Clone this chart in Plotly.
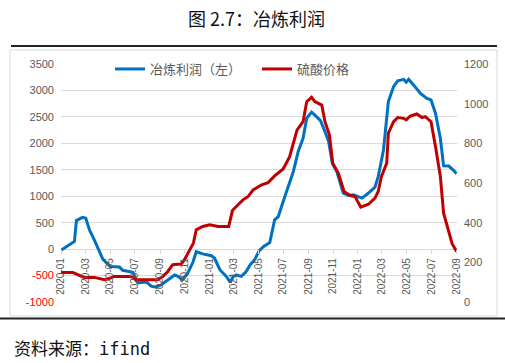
import plotly.graph_objects as go

# ---- data ----
profit_dates = ["2020-01-01","2020-02-03","2020-02-08","2020-02-23","2020-03-02","2020-03-11","2020-03-23",
    "2020-04-13","2020-05-01","2020-05-11","2020-05-24","2020-06-01","2020-06-17","2020-06-26","2020-07-08",
    "2020-07-29","2020-08-10","2020-08-22","2020-09-04","2020-09-20","2020-10-07","2020-10-15","2020-10-26",
    "2020-11-08","2020-11-21","2020-11-29","2020-12-15","2021-01-05","2021-01-13","2021-01-26","2021-02-11",
    "2021-02-21","2021-02-28","2021-03-08","2021-03-20","2021-03-31","2021-04-11","2021-04-22","2021-05-03",
    "2021-05-14","2021-05-29","2021-06-10","2021-06-19","2021-07-01","2021-07-13","2021-07-26","2021-08-07",
    "2021-08-19","2021-08-28","2021-09-09","2021-09-21","2021-10-01","2021-10-12","2021-10-21","2021-10-30",
    "2021-11-10","2021-11-26","2021-12-09","2021-12-21","2022-01-11","2022-01-27","2022-02-12","2022-02-20",
    "2022-03-05","2022-03-17","2022-03-30","2022-04-09","2022-04-24","2022-04-30","2022-05-06","2022-05-18",
    "2022-06-04","2022-06-20","2022-06-30","2022-07-11","2022-07-23","2022-07-31","2022-08-13","2022-08-25",
    "2022-09-01"]
profit_values = [-20,145,540,600,585,365,175,
    -190,-330,-330,-340,-400,-420,-440,-640,
    -620,-700,-720,-675,-580,-490,-515,-580,
    -455,-245,-50,-90,-125,-170,-390,-515,
    -630,-515,-490,-515,-435,-295,-200,-30,
    50,125,555,615,900,1185,1465,1845,
    2095,2475,2590,2505,2430,2220,2035,1625,
    1465,1060,1015,1025,965,1060,1170,1370,
    1875,2790,3075,3180,3210,3155,3210,3105,
    2945,2850,2820,2570,2095,1575,1570,1485,
    1425]

acid_dates = ["2020-01-01","2020-01-30","2020-02-11","2020-02-27","2020-03-23","2020-04-17","2020-04-25",
    "2020-05-11","2020-06-17","2020-06-26","2020-07-04","2020-08-26","2020-09-08","2020-09-20","2020-10-02",
    "2020-10-23","2020-10-31","2020-11-13","2020-11-22","2020-11-29","2020-12-15","2021-01-01","2021-01-22",
    "2021-02-17","2021-02-26","2021-03-12","2021-03-24","2021-04-06","2021-04-18","2021-05-09","2021-05-25",
    "2021-06-10","2021-07-01","2021-07-17","2021-08-04","2021-08-19","2021-08-28","2021-09-09","2021-09-17",
    "2021-10-04","2021-10-12","2021-10-23","2021-10-31","2021-11-14","2021-11-28","2021-12-13","2021-12-25",
    "2022-01-08","2022-01-27","2022-02-12","2022-02-20","2022-02-28","2022-03-13","2022-03-17","2022-03-30",
    "2022-04-09","2022-04-24","2022-04-30","2022-05-10","2022-05-26","2022-06-08","2022-06-16","2022-06-30",
    "2022-07-11","2022-07-23","2022-07-31","2022-08-13","2022-08-21","2022-09-01"]
acid_values = [149,149,138,124,124,112,116,
    129,129,124,112,112,129,154,188,
    191,213,263,297,364,381,389,381,
    381,461,490,515,532,565,591,602,
    636,671,733,867,909,1010,1032,1010,
    993,909,842,700,649,557,537,532,
    478,493,524,557,633,700,851,909,
    930,926,918,938,948,930,935,909,
    784,633,448,356,294,255]

left_ticks = [-1000, -500, 0, 500, 1000, 1500, 2000, 2500, 3000, 3500]
right_ticks = [0, 200, 400, 600, 800, 1000, 1200]
title_text = "图 2.7：冶炼利润"
source_cjk = "资料来源："
source_latin = "ifind"
name_profit = "冶炼利润（左）"
name_acid = "硫酸价格"

# ---- layout geometry ----
W, H = 505, 363
L, R, T, B = 61, 457, 64, 302
def px(x):
    return (x - L) / (R - L)
def py(y):
    return (B - y) / (B - T)

left_text = [f"<span style='color:#FF0000'>{v}</span>" if v < 0 else str(v) for v in left_ticks]

fig = go.Figure()
fig.add_trace(go.Scatter(x=profit_dates, y=profit_values, name=name_profit, mode="lines",
                         line=dict(color="#0070C0", width=3), yaxis="y"))
fig.add_trace(go.Scatter(x=acid_dates, y=acid_values, name=name_acid, mode="lines",
                         line=dict(color="#C00000", width=3), yaxis="y2"))

ymin, ymax = left_ticks[0], left_ticks[-1]
fig.update_layout(
    width=W, height=H,
    margin=dict(l=L, r=W - R, t=T, b=H - B, pad=0),
    paper_bgcolor="white", plot_bgcolor="white",
    font=dict(family="Liberation Sans, Arial, sans-serif", color="#595959"),
    showlegend=True,
    legend=dict(orientation="h", x=px(110), y=py(69), xanchor="left", yanchor="middle",
                bgcolor="rgba(0,0,0,0)", font=dict(family="Noto Sans CJK SC", size=13, color="#595959"),
                entrywidth=102, tracegroupgap=0),
    xaxis=dict(type="date", range=["2020-01-01", "2022-09-02"], dtick="M2", tick0="2020-01-01",
               tickformat="%Y-%m", tickangle=-90, showgrid=False, zeroline=False,
               anchor="free", position=(0 - ymin) / (ymax - ymin),
               ticks="outside", ticklen=4, tickcolor="#d9d9d9",
               showline=False, tickfont=dict(size=10, color="#595959")),
    yaxis=dict(range=[ymin, ymax], tickvals=left_ticks, ticktext=left_text,
               showgrid=True, gridcolor="#d9d9d9", gridwidth=1, zeroline=False,
               ticks="", tickfont=dict(size=11, color="#595959"), ticklabelstandoff=6),
    yaxis2=dict(range=[right_ticks[0], right_ticks[-1]], tickvals=right_ticks, overlaying="y",
                side="right", showgrid=False, zeroline=False, ticks="",
                tickfont=dict(size=11, color="#595959"), ticklabelstandoff=6),
)

# frame, rules, title, source
fig.add_shape(type="rect", xref="paper", yref="paper", x0=px(10), x1=px(497), y0=py(316), y1=py(50),
              line=dict(color="#d9d9d9", width=1), layer="below")
fig.add_shape(type="line", xref="paper", yref="paper", x0=px(11), x1=px(497), y0=py(46), y1=py(46),
              line=dict(color="#222222", width=2))
fig.add_shape(type="line", xref="paper", yref="paper", x0=px(0), x1=px(505), y0=py(318.5), y1=py(318.5),
              line=dict(color="#222222", width=2))
fig.add_annotation(text=title_text, xref="paper", yref="paper", x=px(256), y=py(18), showarrow=False,
                   xanchor="center", yanchor="middle",
                   font=dict(family="Noto Sans CJK SC", size=18, color="#111111"))
fig.add_annotation(text=source_cjk + f"<span style='font-family:DejaVu Sans Mono'>{source_latin}</span>",
                   xref="paper", yref="paper", x=px(12), y=py(347), showarrow=False,
                   xanchor="left", yanchor="middle",
                   font=dict(family="Noto Sans CJK SC", size=17, color="#111111"))

fig.write_html("out.html", config={"displayModeBar": False},
               post_script="document.body.style.margin='0';document.body.style.padding='0';")
